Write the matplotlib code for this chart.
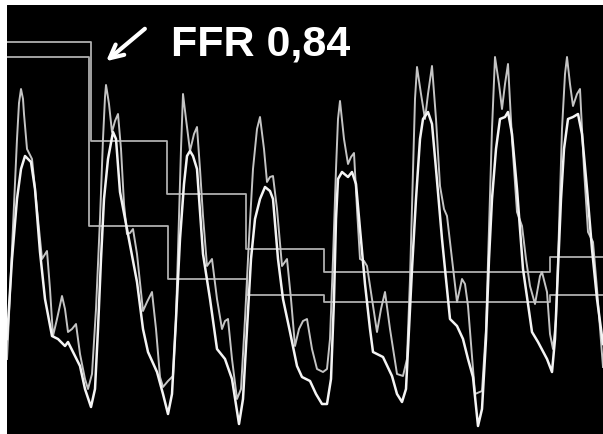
import matplotlib
matplotlib.use("Agg")
import matplotlib.pyplot as plt

# time axis (px-like units) and pressure traces (y grows downward)
pa_t = [7, 12, 17, 19, 21, 23, 24, 27, 32, 37, 42, 47, 50, 53, 57, 62, 65, 68, 72, 76, 80, 85, 88,
        92, 96, 100, 103, 105, 106, 107, 109, 112, 115, 118, 121, 124, 127, 130, 133, 137, 143, 147, 152, 156, 160, 163, 168, 173,
        176, 179, 181, 183, 186, 190, 194, 197, 200, 203, 207, 212, 217, 222, 225, 228, 232, 237,
        241, 245, 249, 253, 257, 260, 264, 267, 270, 273, 277, 282, 287, 291, 295, 299, 303, 307, 312, 317, 323, 327,
        330, 333, 336, 338, 340, 344, 348, 351, 354, 357, 360, 364, 367, 372, 377, 381, 385, 390, 397, 403,
        407, 410, 413, 415, 417, 421, 425, 428, 432, 436, 440, 444, 447, 452, 457, 462, 465, 468, 475, 482,
        486, 489, 492, 495, 499, 502, 505, 508, 512, 517, 522, 526, 530, 535, 540, 542, 547, 550, 553,
        556, 559, 562, 565, 567, 570, 573, 577, 580, 584, 588, 593, 597, 603]
pa_p = [360, 250, 140, 104, 90, 100, 115, 150, 160, 210, 260, 252, 290, 337, 320, 297, 310, 333, 330, 325, 355, 380, 390,
        375, 310, 220, 140, 98, 86, 92, 105, 133, 122, 115, 150, 205, 235, 234, 230, 255, 312, 303, 293, 330, 378, 388, 382, 377,
        320, 220, 150, 95, 120, 152, 135, 128, 170, 217, 267, 260, 300, 330, 322, 320, 360, 400,
        390, 320, 240, 170, 130, 118, 150, 183, 178, 177, 210, 267, 260, 300, 347, 330, 322, 320, 350, 370, 373, 370,
        340, 260, 170, 120, 102, 140, 165, 158, 154, 210, 260, 262, 267, 300, 333, 310, 293, 330, 375, 377,
        360, 280, 170, 100, 68, 95, 120, 95, 67, 120, 187, 210, 217, 260, 303, 280, 285, 307, 395, 392,
        330, 230, 130, 58, 85, 110, 85, 65, 140, 213, 227, 260, 287, 305, 277, 273, 293, 335, 350,
        320, 230, 130, 75, 58, 85, 107, 95, 90, 170, 233, 243, 290, 368]

pd_t = [7, 12, 17, 21, 25, 31, 35, 40, 45, 52, 58, 65, 68, 74, 80, 85, 91,
        95, 98, 101, 104, 108, 113, 116, 120, 127, 137, 143, 148, 157, 163, 168,
        172, 176, 180, 184, 187, 190, 193, 197, 203, 210, 217, 225, 232, 239,
        243, 247, 251, 255, 260, 265, 270, 273, 278, 283, 290, 297, 302, 310, 316, 322, 327,
        331, 334, 336, 338, 342, 348, 352, 356, 360, 365, 370, 373, 383, 392, 397, 402,
        406, 409, 412, 416, 420, 423, 428, 432, 436, 442, 450, 457, 463, 468, 473, 478,
        482, 486, 489, 492, 496, 500, 505, 508, 512, 517, 523, 532, 538, 547, 552,
        555, 558, 561, 564, 568, 573, 578, 582, 587, 592, 597, 603]
pd_p = [340, 260, 200, 170, 157, 163, 190, 253, 300, 337, 340, 347, 343, 355, 367, 390, 408,
        390, 330, 260, 200, 160, 133, 140, 193, 230, 283, 330, 353, 373, 395, 415,
        395, 320, 240, 185, 157, 152, 157, 170, 255, 300, 350, 360, 380, 425,
        400, 330, 260, 220, 200, 188, 192, 200, 260, 300, 333, 367, 378, 382, 395, 405, 405,
        380, 300, 220, 180, 173, 178, 173, 185, 230, 285, 330, 353, 358, 377, 395, 403,
        390, 330, 270, 200, 140, 120, 113, 125, 170, 240, 320, 327, 340, 360, 378, 427,
        410, 340, 260, 200, 150, 120, 118, 113, 135, 190, 270, 333, 343, 360, 373,
        340, 270, 200, 150, 120, 118, 115, 135, 190, 250, 300, 345]

# beat-by-beat mean pressures (step lines)
pa_mean_t = [7, 91, 91, 167, 167, 246, 246, 324, 324, 550, 550, 603]
pa_mean_p = [43, 43, 142, 142, 195, 195, 250, 250, 273, 273, 258, 258]
pd_mean_t = [7, 89, 89, 168, 168, 247, 247, 324, 324, 550, 550, 603]
pd_mean_p = [58, 58, 227, 227, 280, 280, 296, 296, 303, 303, 296, 296]

ffr_label = "FFR 0,84"

fig = plt.figure(figsize=(6.03, 4.35), dpi=100, facecolor='white')
ax = fig.add_axes([7/603, 0, 596/603, 429/435])
ax.set_xlim(7, 603)
ax.set_ylim(435, 6)
ax.axis('off')
ax.add_patch(plt.Rectangle((0, 0), 1, 1, transform=ax.transAxes, color='black', zorder=0))

ax.plot(pa_mean_t, pa_mean_p, color='#b0b0b0', lw=1.3)
ax.plot(pd_mean_t, pd_mean_p, color='#b0b0b0', lw=1.3)
ax.plot(pa_t, pa_p, color='#c4c4c4', lw=1.4, solid_joinstyle='round')
ax.plot(pd_t, pd_p, color='#f4f4f4', lw=1.8, solid_joinstyle='round')

ax.text(171, 56, ffr_label, color='white', fontsize=31, fontweight='bold',
        family='Liberation Sans', ha='left', va='baseline')
ax.annotate('', xy=(104, 64), xytext=(147, 28),
            arrowprops=dict(arrowstyle='->', color='white', lw=3, mutation_scale=24))

plt.savefig('out.png', dpi=100, facecolor='white')
